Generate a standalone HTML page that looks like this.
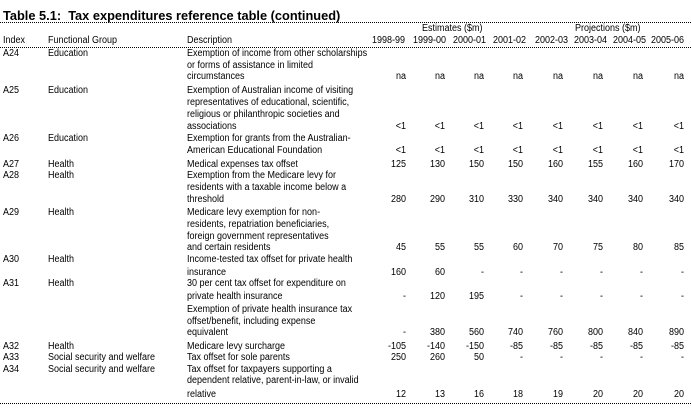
<!DOCTYPE html>
<html><head><meta charset="utf-8"><style>
body{margin:0;width:691px;height:411px;background:#fff;position:relative;overflow:hidden;font-family:"Liberation Sans",Arial,sans-serif;font-size:10px;color:#000}
div{position:absolute;white-space:nowrap;line-height:12px;transform:scaleX(0.9);transform-origin:0 0}
.t{left:3px;top:9px;font-weight:bold;font-size:12.8px;line-height:14px;transform:none}
.hr{left:0;width:691px;height:0;border-top:1px dotted #000;transform:none}
.v{text-align:right;width:40px;transform-origin:100% 0}
</style></head><body>
<div class="t">Table 5.1:&nbsp; Tax expenditures reference table (continued)</div>
<div class="hr" style="top:22px"></div>
<div style="left:422px;top:23px">Estimates ($m)</div>
<div style="left:575px;top:23px">Projections ($m)</div>
<div style="left:3px;top:35px">Index</div>
<div style="left:48px;top:35px">Functional Group</div>
<div style="left:187px;top:35px">Description</div>
<div style="left:372px;top:35px">1998-99</div><div style="left:413px;top:35px">1999-00</div><div style="left:453px;top:35px">2000-01</div><div style="left:493px;top:35px">2001-02</div><div style="left:535px;top:35px">2002-03</div><div style="left:574px;top:35px">2003-04</div><div style="left:613px;top:35px">2004-05</div><div style="left:651px;top:35px">2005-06</div>
<div class="hr" style="top:47px"></div>

<div style="left:3px;top:48px">A24</div><div style="left:48px;top:48px">Education</div>
<div style="left:187px;top:48px">Exemption of income from other scholarships</div>
<div style="left:187px;top:60px">or forms of assistance in limited</div>
<div style="left:187px;top:71px">circumstances</div>

<div style="left:3px;top:85px">A25</div><div style="left:48px;top:85px">Education</div>
<div style="left:187px;top:85px">Exemption of Australian income of visiting</div>
<div style="left:187px;top:97px">representatives of educational, scientific,</div>
<div style="left:187px;top:109px">religious or philanthropic societies and</div>
<div style="left:187px;top:121px">associations</div>

<div style="left:3px;top:133px">A26</div><div style="left:48px;top:133px">Education</div>
<div style="left:187px;top:133px">Exemption for grants from the Australian-</div>
<div style="left:187px;top:145px">American Educational Foundation</div>

<div style="left:3px;top:159px">A27</div><div style="left:48px;top:159px">Health</div>
<div style="left:187px;top:159px">Medical expenses tax offset</div>

<div style="left:3px;top:170px">A28</div><div style="left:48px;top:170px">Health</div>
<div style="left:187px;top:170px">Exemption from the Medicare levy for</div>
<div style="left:187px;top:182px">residents with a taxable income below a</div>
<div style="left:187px;top:194px">threshold</div>

<div style="left:3px;top:207px">A29</div><div style="left:48px;top:207px">Health</div>
<div style="left:187px;top:207px">Medicare levy exemption for non-</div>
<div style="left:187px;top:219px">residents, repatriation beneficiaries,</div>
<div style="left:187px;top:231px">foreign government representatives</div>
<div style="left:187px;top:242px">and certain residents</div>

<div style="left:3px;top:254px">A30</div><div style="left:48px;top:254px">Health</div>
<div style="left:187px;top:254px">Income-tested tax offset for private health</div>
<div style="left:187px;top:267px">insurance</div>

<div style="left:3px;top:278px">A31</div><div style="left:48px;top:278px">Health</div>
<div style="left:187px;top:278px">30 per cent tax offset for expenditure on</div>
<div style="left:187px;top:291px">private health insurance</div>

<div style="left:187px;top:304px">Exemption of private health insurance tax</div>
<div style="left:187px;top:316px">offset/benefit, including expense</div>
<div style="left:187px;top:327px">equivalent</div>

<div style="left:3px;top:341px">A32</div><div style="left:48px;top:341px">Health</div>
<div style="left:187px;top:341px">Medicare levy surcharge</div>
<div style="left:3px;top:352px">A33</div><div style="left:48px;top:352px">Social security and welfare</div>
<div style="left:187px;top:352px">Tax offset for sole parents</div>
<div style="left:3px;top:364px">A34</div><div style="left:48px;top:364px">Social security and welfare</div>
<div style="left:187px;top:364px">Tax offset for taxpayers supporting a</div>
<div style="left:187px;top:375px">dependent relative, parent-in-law, or invalid</div>
<div style="left:187px;top:389px">relative</div>
<div class="hr" style="top:403px"></div>

<script>
var R=[406,445,484,523,563,603,643,684];
var rows=[[71,["na","na","na","na","na","na","na","na"]],
[121,["<1","<1","<1","<1","<1","<1","<1","<1"]],
[145,["<1","<1","<1","<1","<1","<1","<1","<1"]],
[159,["125","130","150","150","160","155","160","170"]],
[194,["280","290","310","330","340","340","340","340"]],
[242,["45","55","55","60","70","75","80","85"]],
[267,["160","60","-","-","-","-","-","-"]],
[291,["-","120","195","-","-","-","-","-"]],
[327,["-","380","560","740","760","800","840","890"]],
[341,["-105","-140","-150","-85","-85","-85","-85","-85"]],
[352,["250","260","50","-","-","-","-","-"]],
[389,["12","13","16","18","19","20","20","20"]]];
var h="";
rows.forEach(function(r){r[1].forEach(function(v,i){h+='<div class="v" style="left:'+(R[i]-40)+'px;top:'+r[0]+'px">'+v.replace("<","&lt;")+'</div>';});});
document.body.insertAdjacentHTML("beforeend",h);
</script>
</body></html>
